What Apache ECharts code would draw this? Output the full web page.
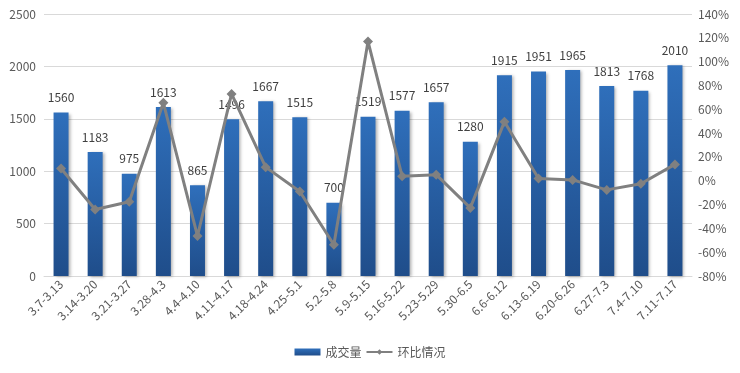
<!DOCTYPE html>
<html>
<head>
<meta charset="utf-8">
<script src="https://cdn.jsdelivr.net/npm/echarts@6/dist/echarts.min.js"></script>
<style>html,body{margin:0;padding:0;background:#fff;}#c{width:740px;height:373px;}</style>
</head>
<body>
<div id="c"></div>
<script>
const categories = ['3.7-3.13','3.14-3.20','3.21-3.27','3.28-4.3','4.4-4.10','4.11-4.17','4.18-4.24','4.25-5.1','5.2-5.8','5.9-5.15','5.16-5.22','5.23-5.29','5.30-6.5','6.6-6.12','6.13-6.19','6.20-6.26','6.27-7.3','7.4-7.10','7.11-7.17'];
const volume = [1560,1183,975,1613,865,1496,1667,1515,700,1519,1577,1657,1280,1915,1951,1965,1813,1768,2010];
const ratio = [10.3,-24.2,-17.6,65.4,-46.4,72.9,11.4,-9.1,-53.8,117.0,3.8,5.1,-22.8,49.6,1.9,0.7,-7.7,-2.5,13.7];
const leftTicks = [0,500,1000,1500,2000,2500];
const rightTicks = [-80,-60,-40,-20,0,20,40,60,80,100,120,140];
</script>
<script>
const chart = echarts.init(document.getElementById('c'), null, {renderer:'canvas'});
const font = '"Microsoft YaHei","Noto Sans CJK SC","Noto Sans",sans-serif';
chart.setOption({
  animation:false,
  textStyle:{fontFamily:font},
  grid:{left:44,right:48,top:14,bottom:97,containLabel:false},
  legend:{
    bottom:10,left:'center',itemGap:4,itemWidth:26,itemHeight:7,
    textStyle:{color:'#595959',fontSize:12,fontFamily:font},
    data:[{name:'成交量',icon:'rect'},{name:'环比情况'}]
  },
  xAxis:{
    type:'category',data:categories,
    axisLine:{lineStyle:{color:'#d9d9d9',width:1}},
    axisTick:{show:false},
    axisLabel:{rotate:45,color:'#595959',fontSize:12,interval:0,margin:6}
  },
  yAxis:[{
    type:'value',min:leftTicks[0],max:leftTicks[leftTicks.length-1],interval:500,
    axisLine:{show:false},axisTick:{show:false},
    axisLabel:{color:'#595959',fontSize:12,margin:8,formatter:function(v){return String(v);}},
    splitLine:{lineStyle:{color:'#d9d9d9',width:1}}
  },{
    type:'value',min:rightTicks[0],max:rightTicks[rightTicks.length-1],interval:20,
    axisLine:{show:false},axisTick:{show:false},
    axisLabel:{color:'#595959',fontSize:12,margin:6,formatter:'{value}%'},
    splitLine:{show:false}
  }],
  series:[{
    name:'成交量',type:'bar',data:volume,barWidth:15,yAxisIndex:0,
    itemStyle:{
      color:new echarts.graphic.LinearGradient(0,0,0,1,[{offset:0,color:'#2f6fbb'},{offset:1,color:'#1f4d8a'}]),
      shadowColor:'rgba(0,0,0,0.3)',shadowBlur:3,shadowOffsetX:2,shadowOffsetY:1
    },
    label:{show:true,position:'top',distance:9,color:'#404040',fontSize:12}
  },{
    name:'环比情况',type:'line',data:ratio,yAxisIndex:1,
    symbol:'diamond',symbolSize:10,
    lineStyle:{color:'#808080',width:3},
    itemStyle:{color:'#808080'},
    z:5
  }]
});
</script>
</body>
</html>
